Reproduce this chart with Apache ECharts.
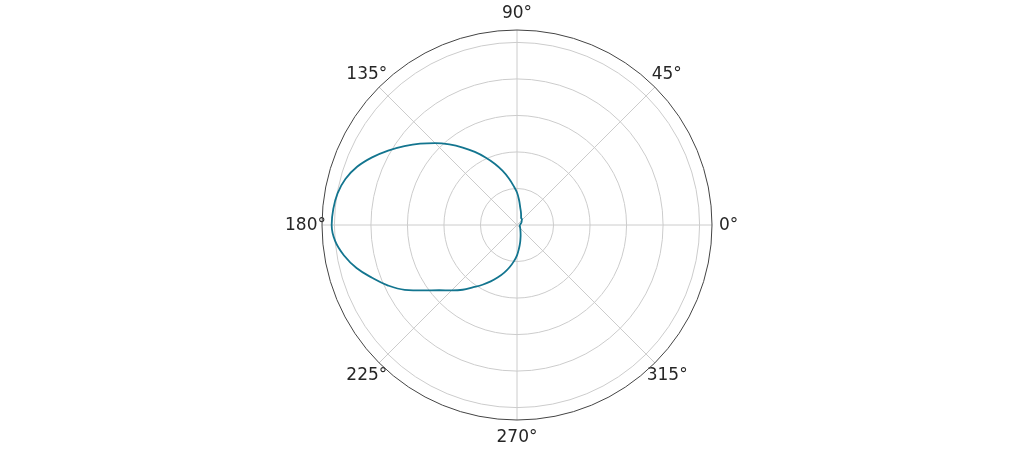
<!DOCTYPE html>
<html>
<head>
<meta charset="utf-8">
<script src="https://cdn.jsdelivr.net/npm/echarts@6/dist/echarts.min.js"></script>
<style>
  html, body { margin: 0; padding: 0; background: #fff; }
  #chart { width: 1035px; height: 450px; }
</style>
</head>
<body>
<div id="chart"></div>
<script>
  // angles in degrees, radius (outer ring = 1.0)
  const angles = [0, 15, 30, 45, 50, 60, 70, 80, 85, 90, 95, 100, 105, 110, 115, 120, 125, 130, 135,
    140, 145, 150, 155, 160, 165, 170, 175, 180, 185, 190, 195, 200, 205, 210, 215, 220, 225,
    230, 235, 240, 245, 250, 255, 260, 265, 270, 275, 280, 285, 290, 300, 315, 330, 345, 360];
  const radii = [0.015, 0.02, 0.028, 0.037, 0.042, 0.045, 0.065, 0.1, 0.135, 0.178, 0.215, 0.26, 0.308, 0.357, 0.408, 0.462, 0.518, 0.576, 0.634,
    0.693, 0.753, 0.815, 0.876, 0.932, 0.973, 0.998, 1.01, 1.015, 1.0, 0.962, 0.91, 0.845, 0.782, 0.71, 0.625, 0.556, 0.506,
    0.463, 0.416, 0.378, 0.341, 0.305, 0.27, 0.235, 0.2, 0.166, 0.128, 0.098, 0.074, 0.058, 0.038, 0.025, 0.019, 0.016, 0.015];
  const angleTicks = [0, 45, 90, 135, 180, 225, 270, 315];

  const data = angles.map((a, i) => [radii[i], a]);

  // padding per label so every label is centred at about the same distance from the circle
  const labelPad = {
    0: [2, 0, 0, 20],
    45: [0, 0, 13, 6],
    90: [0, 0, 21, 0],
    135: [0, 1, 13, 0],
    180: [2, 9, 0, 0],
    225: [13, 1, 0, 0],
    270: [22, 0, 0, 0],
    315: [13, 0, 0, 1],
  };
  const rich = {};
  angleTicks.forEach((t) => {
    rich['a' + t] = {
      color: '#262626',
      fontSize: 17,
      fontFamily: 'DejaVu Sans',
      padding: labelPad[t],
    };
  });

  const chart = echarts.init(document.getElementById('chart'));
  chart.setOption({
    animation: false,
    polar: {
      center: [517, 225],
      radius: 195,
    },
    angleAxis: {
      type: 'value',
      min: 0,
      max: 360,
      interval: 45,
      startAngle: 0,
      clockwise: false,
      axisLine: { lineStyle: { color: '#444', width: 1 } },
      axisTick: { show: false },
      axisLabel: {
        margin: -13,
        color: '#262626',
        fontSize: 17,
        fontFamily: 'DejaVu Sans',
        rich: rich,
        formatter: (v) => (angleTicks.includes(v) ? '{a' + v + '|' + v + '°}' : ''),
      },
      splitLine: { lineStyle: { color: '#cccccc', width: 1 } },
    },
    radiusAxis: {
      type: 'value',
      min: 0,
      max: 1.068,
      interval: 0.2,
      axisLine: { show: false },
      axisTick: { show: false },
      axisLabel: { show: false },
      splitLine: {
        lineStyle: {
          color: ['#cccccc', '#cccccc', '#cccccc', '#cccccc', '#cccccc', '#cccccc', 'rgba(0,0,0,0)'],
          width: 1,
        },
      },
    },
    series: [
      {
        type: 'line',
        coordinateSystem: 'polar',
        showSymbol: false,
        smooth: 0.4,
        lineStyle: { color: '#13758f', width: 1.8 },
        data: data,
      },
    ],
  });
</script>
</body>
</html>
